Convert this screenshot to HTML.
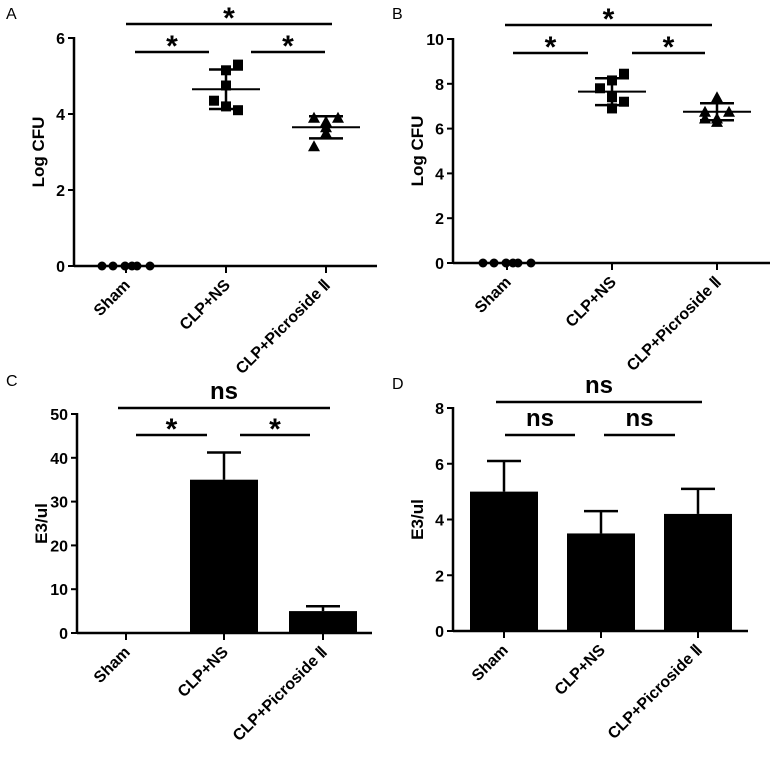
<!DOCTYPE html>
<html><head><meta charset="utf-8"><style>
body{margin:0;background:#fff}
svg text{font-family:"Liberation Sans",Arial,sans-serif;fill:#000}
.b{font-weight:bold}
</style></head><body>
<svg id="fig" width="777" height="756" viewBox="0 0 777 756" xmlns="http://www.w3.org/2000/svg"></svg>
<script>
const cats = ["Sham","CLP+NS","CLP+Picroside Ⅱ"];
// Panel A (Log CFU)
const aSham = [0,0,0,0,0,0];
const aNS = [4.35,5.15,5.3,4.75,4.1,4.2];
const aPic = [3.9,3.9,3.8,3.65,3.5,3.15];
const aMean = [0,4.65,3.65];
const aSD = [0,0.52,0.29];
const aTicks = [0,2,4,6];
// Panel B
const bSham = [0,0,0,0,0,0];
const bNS = [7.8,8.15,8.45,7.4,7.2,6.9];
const bPic = [6.75,6.75,6.45,7.4,6.3,6.45];
const bMean = [0,7.65,6.75];
const bSD = [0,0.6,0.38];
const bTicks = [0,2,4,6,8,10];
// Panel C (bars)
const cVals = [0,35,5];
const cErr = [0,6.2,1.1];
const cTicks = [0,10,20,30,40,50];
// Panel D
const dVals = [5,3.5,4.2];
const dErr = [1.1,0.8,0.9];
const dTicks = [0,2,4,6,8];

const NS="http://www.w3.org/2000/svg";
const svg=document.getElementById('fig');
function el(t,a,p){const e=document.createElementNS(NS,t);for(const k in a)e.setAttribute(k,a[k]);(p||svg).appendChild(e);return e;}
function line(g,x1,y1,x2,y2,w,name){const e=el('line',{x1,y1,x2,y2,stroke:'#000','stroke-width':w||2},g);

return e;}
function txt(g,x,y,s,size,cls,anchor,name,tr){const e=el('text',{x,y,'font-size':size,'text-anchor':anchor||'middle'},g);if(cls)e.setAttribute('class',cls);if(tr)e.setAttribute('transform',tr);e.textContent=s;

return e;}

function panel(cfg){
  const g=el('g',{});
  
  
  const y=v=>cfg.y0-(v-cfg.ymin)/(cfg.ymax-cfg.ymin)*(cfg.y0-cfg.ytop);
  const x=i=>cfg.xc[i];
  txt(g,cfg.lx,cfg.ly,cfg.letter,16,'','start','panel-letter');
  line(g,cfg.ax,cfg.ytop-1,cfg.ax,cfg.y0+1,2.5,'y-axis');
  line(g,cfg.ax,cfg.y0,cfg.xend,cfg.y0,2.5,'x-axis');
  cfg.ticks.forEach(t=>{line(g,cfg.ax-6,y(t),cfg.ax,y(t),2,'y-tick');
    txt(g,cfg.ax-9,y(t)+6,String(t),16,'b','end','y-tick-label');});
  txt(g,0,0,cfg.ylabel,17,'b','middle','y-axis-title','translate('+(cfg.ax-30)+','+((cfg.y0+cfg.ytop)/2)+') rotate(-90)');
  cats.forEach((c,i)=>{line(g,x(i),cfg.y0,x(i),cfg.y0+7,2,'x-tick');
    txt(g,0,0,c,16,'b','end','x-tick-label','translate('+(x(i)+5)+','+(cfg.y0+20)+') rotate(-45)');});
  if(cfg.bars){
    cfg.bars.forEach((v,i)=>{
      const r=el('rect',{x:x(i)-cfg.bw/2,y:y(v),width:cfg.bw,height:cfg.y0-y(v),fill:'#000'},g);
      
      
      if(cfg.err[i]>0){line(g,x(i),y(v),x(i),y(v+cfg.err[i]),2.5,'error-bar');
        line(g,x(i)-17,y(v+cfg.err[i]),x(i)+17,y(v+cfg.err[i]),2.5,'error-cap');}
    });
  }
  if(cfg.pts){
    cfg.pts.forEach((arr,i)=>{
      const o=i==0?[-24,-13,-1,6,11,24]:(i==1?[-12,0,12,0,12,0]:[-12,12,0,0,0,-12]);
      arr.forEach((v,j)=>{
        const px=x(i)+o[j],py=y(v);let m;
        if(i==0)m=el('circle',{cx:px,cy:py,r:4.5,fill:'#000'},g);
        else if(i==1)m=el('rect',{x:px-5,y:py-5,width:10,height:10,fill:'#000'},g);
        else m=el('polygon',{points:(px)+','+(py-6)+' '+(px-6)+','+(py+5)+' '+(px+6)+','+(py+5),fill:'#000'},g);
        
        
      });
      if(i>0){
        const mm=cfg.mean[i],sd=cfg.sd[i];
        line(g,x(i)-34,y(mm),x(i)+34,y(mm),2,'mean-line');
        line(g,x(i)-17,y(mm+sd),x(i)+17,y(mm+sd),2.5,'sd-cap');
        line(g,x(i)-17,y(mm-sd),x(i)+17,y(mm-sd),2.5,'sd-cap');
        line(g,x(i),y(mm+sd),x(i),y(mm-sd),2.5,'sd-line');
      }
    });
  }
  cfg.sig.forEach(s=>{line(g,s[0],s[2],s[1],s[2],2.5,'significance-bar');
    if(s[3]=='*')txt(g,(s[0]+s[1])/2,s[2]+4,'*',30,'b','middle','significance-star');
    else txt(g,(s[0]+s[1])/2,s[2]-9,'ns',24,'b','middle','significance-ns');});
}
panel({name:'panel-a',letter:'A',lx:6,ly:19,ax:74,y0:266,ytop:38,ymin:0,ymax:6,xend:377,xc:[126,226,326],
  ticks:aTicks,ylabel:'Log CFU',pts:[aSham,aNS,aPic],mean:aMean,sd:aSD,
  sig:[[126,332,24,'*'],[135,209,52,'*'],[251,325,52,'*']]});
panel({name:'panel-b',letter:'B',lx:392,ly:19,ax:453,y0:263,ytop:39,ymin:0,ymax:10,xend:770,xc:[507,612,717],
  ticks:bTicks,ylabel:'Log CFU',pts:[bSham,bNS,bPic],mean:bMean,sd:bSD,
  sig:[[505,712,25,'*'],[513,588,53,'*'],[632,705,53,'*']]});
panel({name:'panel-c',letter:'C',lx:6,ly:386,ax:77,y0:633,ytop:414,ymin:0,ymax:50,xend:372,xc:[126,224,323],
  ticks:cTicks,ylabel:'E3/ul',bars:cVals,err:cErr,bw:68,
  sig:[[118,330,408,'ns'],[136,207,435,'*'],[240,310,435,'*']]});
panel({name:'panel-d',letter:'D',lx:392,ly:389,ax:453,y0:631,ytop:408,ymin:0,ymax:8,xend:748,xc:[504,601,698],
  ticks:dTicks,ylabel:'E3/ul',bars:dVals,err:dErr,bw:68,
  sig:[[496,702,402,'ns'],[505,575,435,'ns'],[604,675,435,'ns']]});
</script>
</body></html>
